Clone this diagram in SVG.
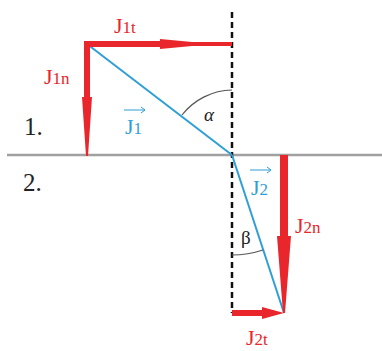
<svg xmlns="http://www.w3.org/2000/svg" width="382" height="351" viewBox="0 0 382 351">
<style>
.red{fill:#e8262b;font-family:"Liberation Serif",serif;font-size:22px}
.blue{fill:#2e9fd6;font-family:"Liberation Serif",serif;font-size:22px}
.blk{fill:#222;font-family:"Liberation Serif",serif;font-size:25px}
.sub{font-size:17px}
.arr{fill:#e8262b}
</style>
<rect width="382" height="351" fill="#fff"/>
<g id="interface"><line x1="7" y1="155" x2="382" y2="155" stroke="#a0a0a0" stroke-width="2.5"/></g>
<g id="normal"><line x1="232" y1="12" x2="232" y2="313" stroke="#111" stroke-width="2.5" stroke-dasharray="6,4"/></g>
<g id="connectors">
<line x1="87" y1="44" x2="232" y2="155" stroke="#2e9fd6" stroke-width="2"/>
<line x1="232" y1="155" x2="284" y2="313" stroke="#2e9fd6" stroke-width="2"/>
<path d="M182,115 A65,65 0 0 1 232,90" fill="none" stroke="#555" stroke-width="1.2"/>
<path d="M232,255 A100,100 0 0 0 263,250" fill="none" stroke="#555" stroke-width="1.2"/>
</g>
<g id="J1t">
<polygon class="arr" points="84,41 160,41 160,39 192,42 232,42 232,46 192,46 160,49 160,47 84,47"/>
<text class="red" x="114" y="33">J<tspan class="sub">1t</tspan></text>
</g>
<g id="J1n">
<polygon class="arr" points="84,41 90,41 90,97 92,97 88,156 86,156 82,97 84,97"/>
<text class="red" x="44" y="84">J<tspan class="sub">1n</tspan></text>
</g>
<g id="J2n">
<polygon class="arr" points="280,155 288,155 288,236 291,236 285,313 283,313 277,236 280,236"/>
<text class="red" x="295" y="233">J<tspan class="sub">2n</tspan></text>
</g>
<g id="J2t">
<polygon class="arr" points="232,310 262,310 262,307 284,313 262,319 262,316 232,316"/>
<text class="red" x="246" y="345">J<tspan class="sub">2t</tspan></text>
</g>
<g id="J1vec">
<text class="blue" x="125" y="134">J<tspan class="sub">1</tspan></text>
<line x1="124" y1="110" x2="145" y2="110" stroke="#2e9fd6" stroke-width="1"/>
<path d="M141,107 L145,110 L141,113" fill="none" stroke="#2e9fd6" stroke-width="1"/>
</g>
<g id="J2vec">
<text class="blue" x="251" y="195">J<tspan class="sub">2</tspan></text>
<line x1="250" y1="170" x2="271" y2="170" stroke="#2e9fd6" stroke-width="1"/>
<path d="M267,167 L271,170 L267,173" fill="none" stroke="#2e9fd6" stroke-width="1"/>
</g>
<g id="alpha"><text class="blk" style="font-size:19px;font-style:italic" x="204" y="121">α</text></g>
<g id="beta"><text class="blk" style="font-size:19px" x="241" y="244">β</text></g>
<g id="m1"><text class="blk" x="24" y="135">1.</text></g>
<g id="m2"><text class="blk" x="23" y="191">2.</text></g>
</svg>
